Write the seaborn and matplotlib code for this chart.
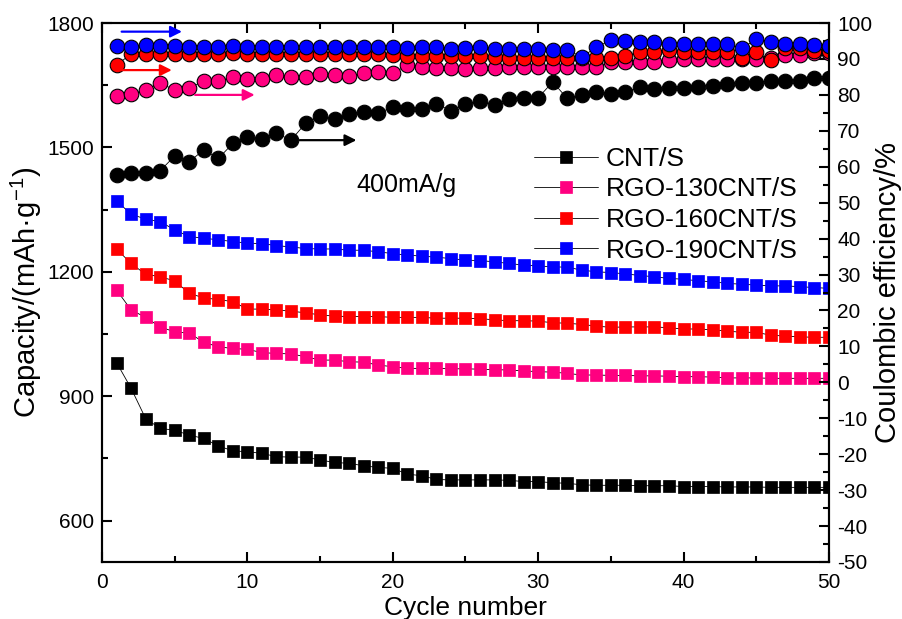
import numpy as np
import pandas as pd
import seaborn as sns
import matplotlib.pyplot as plt
from matplotlib.ticker import MultipleLocator

sns.set_theme(style='ticks')
plt.rcParams['font.family'] = ['Liberation Sans', 'DejaVu Sans']
plt.rcParams['mathtext.default'] = 'regular'
plt.rcParams['axes.unicode_minus'] = False
for k in ('text.color', 'axes.labelcolor', 'xtick.color', 'ytick.color'):
    plt.rcParams[k] = 'black'

cycles = np.arange(1, 51)

names = ['CNT/S', 'RGO-130CNT/S', 'RGO-160CNT/S', 'RGO-190CNT/S']
colors = ['#000000', '#FF0080', '#FF0000', '#0000FF']

# discharge capacity, mAh/g (left axis, squares)
cap_cnt = [981, 919, 846, 822, 818, 806, 798, 780, 768, 766,
           762, 754, 753, 753, 746, 740, 738, 732, 728, 726,
           712, 708, 699, 698, 698, 698, 698, 697, 694, 694,
           691, 690, 686, 685, 685, 685, 684, 684, 684, 682,
           682, 682, 681, 681, 681, 680, 680, 680, 680, 680]
cap_130 = [1156, 1108, 1090, 1067, 1055, 1052, 1030, 1019, 1015, 1013,
           1005, 1003, 1002, 995, 987, 987, 983, 982, 975, 971,
           967, 967, 967, 966, 966, 965, 964, 963, 961, 959,
           958, 955, 951, 951, 950, 950, 949, 949, 948, 947,
           947, 946, 944, 944, 944, 943, 943, 943, 943, 943]
cap_160 = [1255, 1220, 1194, 1188, 1178, 1148, 1137, 1133, 1128, 1110,
           1110, 1108, 1105, 1101, 1096, 1093, 1092, 1092, 1092, 1090,
           1090, 1090, 1088, 1088, 1088, 1087, 1084, 1082, 1082, 1081,
           1077, 1076, 1073, 1069, 1066, 1067, 1067, 1067, 1065, 1062,
           1062, 1060, 1057, 1054, 1054, 1047, 1045, 1043, 1042, 1042]
cap_190 = [1371, 1339, 1327, 1321, 1301, 1285, 1281, 1277, 1273, 1269,
           1268, 1263, 1260, 1256, 1255, 1255, 1252, 1252, 1248, 1244,
           1240, 1238, 1235, 1232, 1228, 1227, 1224, 1220, 1216, 1214,
           1212, 1211, 1204, 1200, 1198, 1195, 1191, 1188, 1184, 1182,
           1178, 1176, 1172, 1170, 1168, 1166, 1166, 1164, 1162, 1160]

# coulombic efficiency, % (right axis, circles)
ce_cnt = [57.7, 58.3, 58.3, 58.9, 63.0, 61.4, 64.7, 62.3, 66.5, 68.2,
          67.7, 69.3, 67.4, 72.1, 74.1, 73.2, 74.6, 75.3, 75.0, 76.5,
          76.0, 76.2, 77.6, 75.5, 77.4, 78.4, 77.2, 78.8, 79.2, 79.2,
          83.6, 79.0, 79.9, 80.9, 80.2, 80.9, 82.1, 81.5, 81.8, 81.9,
          82.3, 82.6, 83.0, 83.2, 83.4, 83.9, 83.9, 83.9, 84.6, 84.6]
ce_130 = [79.7, 80.2, 81.4, 83.2, 81.4, 81.8, 83.9, 83.9, 84.9, 84.3,
          84.3, 85.5, 84.9, 85.1, 85.8, 85.4, 85.3, 86.0, 86.5, 86.0,
          88.3, 87.8, 87.5, 87.4, 87.3, 87.5, 87.6, 87.8, 87.8, 87.8,
          87.8, 87.8, 87.8, 87.8, 89.2, 89.2, 89.2, 89.2, 89.7, 89.9,
          89.9, 89.9, 89.9, 89.9, 89.9, 90.4, 91.1, 91.1, 91.6, 91.6]
ce_160 = [88.3, 91.4, 91.3, 91.3, 91.3, 91.3, 91.3, 91.3, 91.7, 91.3,
          91.3, 91.3, 91.3, 91.3, 91.3, 91.3, 91.3, 91.3, 91.3, 91.2,
          90.8, 90.9, 90.8, 90.8, 90.8, 90.8, 90.6, 90.4, 90.4, 90.4,
          90.4, 90.4, 90.2, 90.4, 90.4, 90.8, 92.0, 92.0, 92.5, 91.8,
          91.8, 91.8, 91.8, 90.4, 91.8, 89.7, 93.0, 93.0, 92.2, 92.2]
ce_190 = [93.6, 93.2, 93.8, 93.7, 93.7, 93.4, 93.4, 93.4, 93.7, 93.4,
          93.4, 93.4, 93.4, 93.4, 93.4, 93.4, 93.4, 93.4, 93.4, 93.4,
          93.0, 93.2, 93.3, 92.7, 93.1, 93.3, 92.8, 92.7, 92.7, 92.7,
          92.5, 92.5, 90.6, 93.2, 95.3, 95.0, 94.6, 94.6, 94.3, 94.3,
          94.3, 94.2, 94.2, 93.0, 95.5, 94.8, 94.3, 94.2, 93.9, 93.6]

capacity = [cap_cnt, cap_130, cap_160, cap_190]
efficiency = [ce_cnt, ce_130, ce_160, ce_190]

fig = plt.figure(figsize=(9.02, 6.19), dpi=100)
ax = fig.add_axes([0.1131, 0.0921, 0.8059, 0.8707])
ax2 = ax.twinx()

for name, col, vals in zip(names, colors, capacity):
    sns.lineplot(x=cycles, y=vals, ax=ax, color='black', lw=0.6,
                 marker='s', ms=9, mfc=col, mec=col, mew=0.5,
                 label=name, legend=False)

for name, col, vals in zip(names, colors, efficiency):
    sns.lineplot(x=cycles, y=vals, ax=ax2, color='black', lw=0.6,
                 marker='o', ms=10.5, mfc=col, mec='black', mew=0.8,
                 legend=False)

ax.set_xlim(0, 50)
ax.set_ylim(500, 1800)
ax2.set_ylim(-50, 100)

ax.xaxis.set_major_locator(MultipleLocator(10))
ax.xaxis.set_minor_locator(MultipleLocator(5))
ax.yaxis.set_major_locator(MultipleLocator(300))
ax.yaxis.set_minor_locator(MultipleLocator(150))
ax2.yaxis.set_major_locator(MultipleLocator(10))
ax2.yaxis.set_minor_locator(MultipleLocator(5))

ax.tick_params(axis='both', which='both', direction='in', width=1.5,
               labelsize=15, top=True, right=False)
ax.tick_params(axis='x', pad=8)
ax.tick_params(axis='y', pad=6)
ax.tick_params(which='major', length=7)
ax.tick_params(which='minor', length=4)
ax2.tick_params(axis='y', which='both', direction='in', width=1.5,
                labelsize=15, pad=6)
ax2.tick_params(which='major', length=7)
ax2.tick_params(which='minor', length=4)

for a in (ax, ax2):
    for sp in a.spines.values():
        sp.set_linewidth(1.5)
        sp.set_color('black')

ax.set_xlabel('Cycle number', fontsize=19, labelpad=3)
ax.set_ylabel('Capacity/(mAh·g$^{-1}$)', fontsize=21, labelpad=2)
ax2.set_ylabel('Coulombic efficiency/%', fontsize=21, labelpad=1)

# direction arrows pointing to the right axis
arrows = [((1.35, 97.6), (5.5, 97.6), '#0000FF'),
          ((1.25, 86.9), (4.8, 86.9), '#FF0000'),
          ((6.4, 80.0), (10.5, 80.0), '#FF0080'),
          ((13.6, 67.4), (17.5, 67.4), '#000000')]
for start, end, col in arrows:
    ax2.annotate('', xy=end, xytext=start,
                 arrowprops=dict(arrowstyle='-|>', color=col, lw=1.6,
                                 mutation_scale=17, shrinkA=0, shrinkB=0))

ax2.text(17.5, 55, '400mA/g', fontsize=18, va='center', ha='left')

handles, labels = ax.get_legend_handles_labels()
ax2.legend(handles, labels, loc='upper left', bbox_to_anchor=(0.58, 0.79),
           frameon=False, fontsize=19, handlelength=2.4, handletextpad=0.3,
           labelspacing=0.25, borderaxespad=0)

fig.savefig('out.png', dpi=100)
